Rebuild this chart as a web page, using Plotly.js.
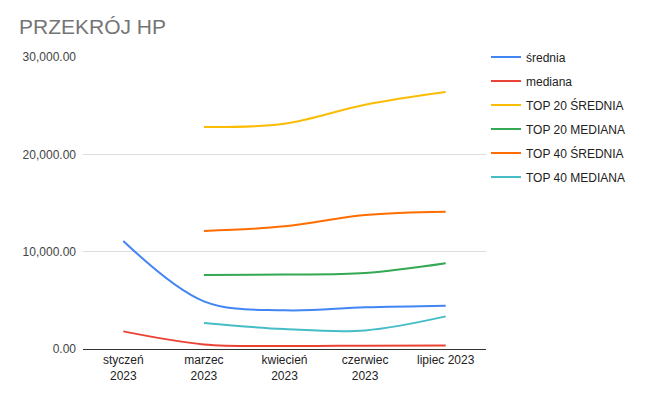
<!DOCTYPE html>
<html>
<head>
<meta charset="utf-8">
<script src="https://cdn.plot.ly/plotly-3.0.1.min.js"></script>
<style>html,body{margin:0;padding:0;background:#fff;}#chart{width:654px;height:399px;}</style>
</head>
<body>
<div id="chart"></div>
<script>
const categories = ["styczeń<br>2023", "marzec<br>2023", "kwiecień<br>2023", "czerwiec<br>2023", "lipiec 2023"];
const seriesNames = ["średnia", "mediana", "TOP 20 ŚREDNIA", "TOP 20 MEDIANA", "TOP 40 ŚREDNIA", "TOP 40 MEDIANA"];
const srednia = [11100, 4900, 3970, 4280, 4450];
const mediana = [1810, 470, 310, 340, 370];
const top20Srednia = [null, 22800, 23150, 25100, 26400];
const top20Mediana = [null, 7600, 7650, 7800, 8800];
const top40Srednia = [null, 12130, 12600, 13770, 14110];
const top40Mediana = [null, 2670, 2050, 1910, 3350];
const colors = ["#4285F4", "#EA4335", "#FBBC04", "#34A853", "#FF6D01", "#46BDC6"];
const allSeries = [srednia, mediana, top20Srednia, top20Mediana, top40Srednia, top40Mediana];

const traces = allSeries.map((vals, i) => ({
  x: categories,
  y: vals,
  name: seriesNames[i],
  type: "scatter",
  mode: "lines",
  legendgroup: "g" + i,
  line: {color: colors[i], width: 2, shape: "spline", smoothing: 1},
  connectgaps: false,
  hoverinfo: "x+y+name"
}));

const FONT = "Arial, 'Liberation Sans', sans-serif";
const layout = {
  width: 654, height: 399,
  margin: {l: 83, r: 168, t: 57, b: 50},
  paper_bgcolor: "#fff", plot_bgcolor: "#fff",
  font: {family: FONT, size: 12, color: "#222"},
  title: {text: "PRZEKRÓJ HP", font: {size: 21, color: "#757575", family: FONT},
          xref: "container", x: 19/654, xanchor: "left", yref: "container", y: 1 - 27/399, yanchor: "middle"},
  xaxis: {type: "category", range: [-0.5, 4.5], showgrid: false, zeroline: false,
          showline: true, linecolor: "#333", linewidth: 1, ticks: "", tickfont: {size: 12, color: "#222"}},
  yaxis: {range: [0, 30000], tickvals: [0, 10000, 20000, 30000], tickformat: ",.2f",
          showgrid: true, gridcolor: "#dddddd", gridwidth: 1, zeroline: false, ticks: "",
          ticklabelstandoff: 6, tickfont: {size: 12, color: "#444"}},
  legend: {x: 1.0, xanchor: "left", y: 1.05, yanchor: "top", tracegroupgap: 5,
           font: {size: 12, color: "#222"}, bgcolor: "rgba(0,0,0,0)"},
  showlegend: true
};

Plotly.newPlot("chart", traces, layout, {displayModeBar: false, staticPlot: true});
</script>
</body>
</html>
